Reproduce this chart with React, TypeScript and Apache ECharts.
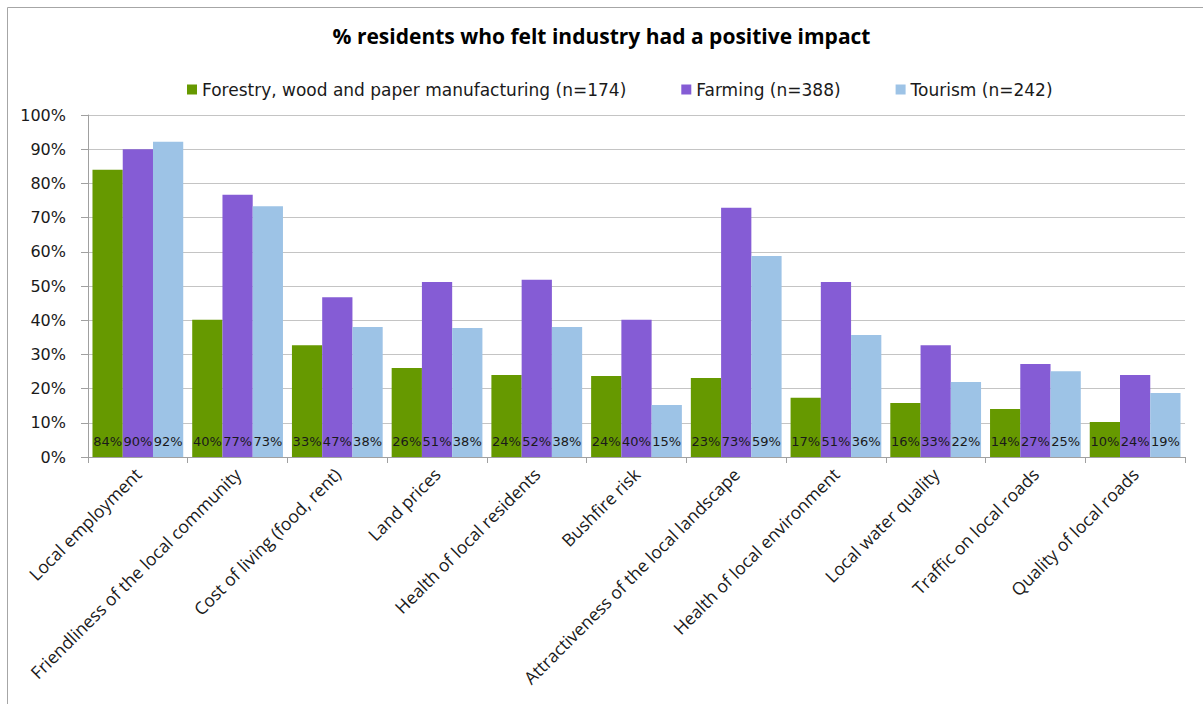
import React, { useEffect, useRef } from "react";
import * as echarts from "echarts";

const categories = [
  "Local employment",
  "Friendliness of the local community",
  "Cost of living (food, rent)",
  "Land prices",
  "Health of local residents",
  "Bushfire risk",
  "Attractiveness of the local landscape",
  "Health of local environment",
  "Local water quality",
  "Traffic on local roads",
  "Quality of local roads",
];
const forestry = [84.0, 40.1, 32.7, 26.0, 24.0, 23.7, 23.1, 17.3, 15.8, 14.0, 10.2];
const farming = [90.0, 76.7, 46.7, 51.2, 51.8, 40.1, 72.9, 51.2, 32.7, 27.2, 24.0];
const tourism = [92.2, 73.3, 38.0, 37.7, 38.0, 15.2, 58.8, 35.7, 21.9, 25.1, 18.7];
const seriesNames = [
  "Forestry, wood and paper manufacturing (n=174)",
  "Farming (n=388)",
  "Tourism (n=242)",
];
const colors = ["#669900", "#855CD5", "#9DC3E6"];
const yTicks = [0, 10, 20, 30, 40, 50, 60, 70, 80, 90, 100];

export default function App() {
  const ref = useRef<HTMLDivElement>(null);
  useEffect(() => {
    if (!ref.current) return;
    const chart = echarts.init(ref.current, undefined, { renderer: "svg" });
    const mk = (name: string, data: number[], color: string) => ({
      name,
      type: "bar",
      data,
      barGap: "0%",
      barCategoryGap: "9%",
      itemStyle: { color },
      label: {
        show: true,
        position: "insideBottom",
        distance: 9,
        formatter: (p: any) => Math.round(p.value) + "%",
        fontFamily: "DejaVu Sans",
        fontSize: 13,
        color: "#1a1a1a",
      },
    });
    chart.setOption({
      animation: false,
      color: colors,
      graphic: [
        {
          type: "rect",
          silent: true,
          shape: { x: 7.5, y: 7.5, width: 1400, height: 1000 },
          style: { fill: "none", stroke: "#a6a6a6", lineWidth: 1 },
        },
      ],
      title: {
        text: "% residents who felt industry had a positive impact",
        left: "center",
        top: 20,
        textStyle: { fontFamily: "Open Sans", fontWeight: "bold", fontSize: 21, color: "#000" },
      },
      legend: {
        top: 76,
        left: 182,
        itemWidth: 10,
        itemHeight: 10,
        itemGap: 55,
        icon: "rect",
        textStyle: { fontFamily: "DejaVu Sans", fontSize: 17, color: "#1a1a1a" },
        data: seriesNames,
      },
      grid: { left: 88, right: 18, top: 115, bottom: 247, containLabel: false },
      xAxis: {
        type: "category",
        data: categories,
        axisLine: { lineStyle: { color: "#a0a0a0" } },
        axisTick: { show: true, length: 6, lineStyle: { color: "#a0a0a0" } },
        axisLabel: {
          rotate: 45,
          interval: 0,
          margin: 14,
          fontFamily: "Open Sans",
          fontSize: 17.5,
          color: "#1a1a1a",
        },
      },
      yAxis: {
        type: "value",
        min: 0,
        max: 100,
        interval: 10,
        axisLine: { show: true, lineStyle: { color: "#a0a0a0" } },
        axisTick: { show: true, length: 7, lineStyle: { color: "#a0a0a0" } },
        splitLine: { lineStyle: { color: "#c4c4c4" } },
        axisLabel: {
          margin: 22,
          fontFamily: "DejaVu Sans",
          fontSize: 16,
          color: "#1a1a1a",
          formatter: (v: number) => (yTicks.includes(v) ? v + "%" : ""),
        },
      },
      series: [
        mk(seriesNames[0], forestry, colors[0]),
        mk(seriesNames[1], farming, colors[1]),
        mk(seriesNames[2], tourism, colors[2]),
      ],
    });
    return () => chart.dispose();
  }, []);
  return (
    <div
      ref={ref}
      style={{ position: "fixed", left: 0, top: 0, width: 1203, height: 704, background: "#fff" }}
    />
  );
}
